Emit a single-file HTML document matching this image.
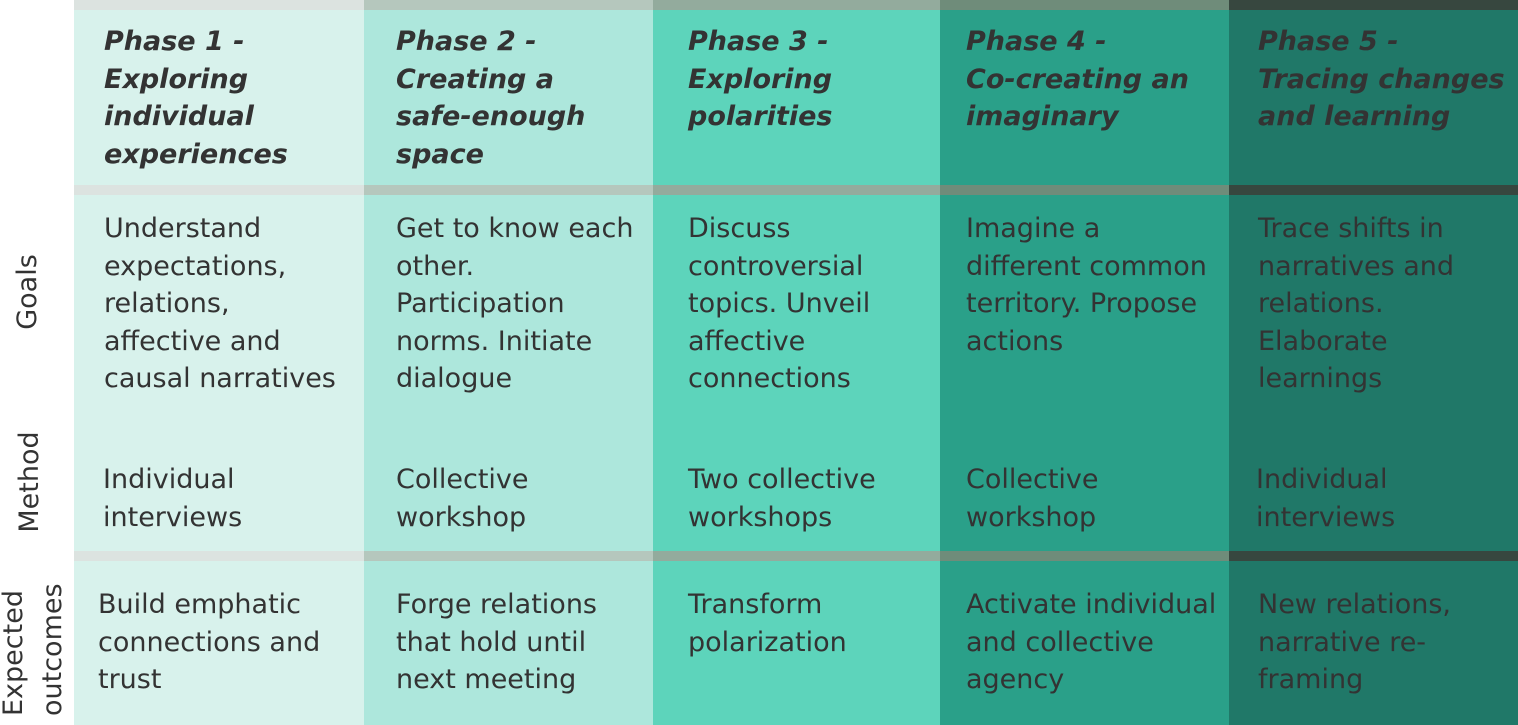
<!DOCTYPE html>
<html><head><meta charset="utf-8"><style>
body{margin:0;width:1518px;height:725px;background:#fff;overflow:hidden;position:relative;font-family:"DejaVu Sans","Liberation Sans",sans-serif;color:#333}
.c{position:absolute;top:0;height:725px}
.bar{position:absolute;left:0;right:0;height:10px}
.t{position:absolute;font-size:27px;line-height:37.5px;white-space:nowrap}
.h{font-weight:bold;font-style:oblique}
svg{position:absolute;left:0;top:0}
</style></head><body>
<div class="c" style="left:74px;width:290px;background:#d8f2ec"><div class="bar" style="top:0;background:#dce3e0"></div><div class="bar" style="top:185px;background:#dce3e0"></div><div class="bar" style="top:551px;background:#dce3e0"></div></div>
<div class="c" style="left:364px;width:289px;background:#ade7dc"><div class="bar" style="top:0;background:#b5c7bd"></div><div class="bar" style="top:185px;background:#b5c7bd"></div><div class="bar" style="top:551px;background:#b5c7bd"></div></div>
<div class="c" style="left:653px;width:287px;background:#5dd4bb"><div class="bar" style="top:0;background:#93ab9d"></div><div class="bar" style="top:185px;background:#93ab9d"></div><div class="bar" style="top:551px;background:#93ab9d"></div></div>
<div class="c" style="left:940px;width:289px;background:#2aa089"><div class="bar" style="top:0;background:#6f8c7a"></div><div class="bar" style="top:185px;background:#6f8c7a"></div><div class="bar" style="top:551px;background:#6f8c7a"></div></div>
<div class="c" style="left:1229px;width:289px;background:#207868"><div class="bar" style="top:0;background:#37473f"></div><div class="bar" style="top:185px;background:#37473f"></div><div class="bar" style="top:551px;background:#37473f"></div></div>

<div class="t h" style="left:104px;top:23px">Phase 1 -<br>Exploring<br>individual<br>experiences</div>
<div class="t h" style="left:396px;top:23px">Phase 2 -<br>Creating a<br>safe-enough<br>space</div>
<div class="t h" style="left:688px;top:23px">Phase 3 -<br>Exploring<br>polarities</div>
<div class="t h" style="left:966px;top:23px">Phase 4 -<br>Co-creating an<br>imaginary</div>
<div class="t h" style="left:1258px;top:23px">Phase 5 -<br>Tracing changes<br>and learning</div>

<div class="t" style="left:104px;top:210px">Understand<br>expectations,<br>relations,<br>affective and<br>causal narratives</div>
<div class="t" style="left:396px;top:210px">Get to know each<br>other.<br>Participation<br>norms. Initiate<br>dialogue</div>
<div class="t" style="left:688px;top:210px">Discuss<br>controversial<br>topics. Unveil<br>affective<br>connections</div>
<div class="t" style="left:966px;top:210px">Imagine a<br>different common<br>territory. Propose<br>actions</div>
<div class="t" style="left:1258px;top:210px">Trace shifts in<br>narratives and<br>relations.<br>Elaborate<br>learnings</div>

<div class="t" style="left:103px;top:461px">Individual<br>interviews</div>
<div class="t" style="left:396px;top:461px">Collective<br>workshop</div>
<div class="t" style="left:688px;top:461px">Two collective<br>workshops</div>
<div class="t" style="left:966px;top:461px">Collective<br>workshop</div>
<div class="t" style="left:1256px;top:461px">Individual<br>interviews</div>

<div class="t" style="left:98px;top:586px">Build emphatic<br>connections and<br>trust</div>
<div class="t" style="left:396px;top:586px">Forge relations<br>that hold until<br>next meeting</div>
<div class="t" style="left:688px;top:586px">Transform<br>polarization</div>
<div class="t" style="left:966px;top:586px">Activate individual<br>and collective<br>agency</div>
<div class="t" style="left:1258px;top:586px">New relations,<br>narrative re-<br>framing</div>

<svg width="74" height="725" font-family="DejaVu Sans, Liberation Sans, sans-serif" font-size="27" fill="#333">
<text transform="translate(36,292) rotate(-90)" text-anchor="middle">Goals</text>
<text transform="translate(38,482) rotate(-90)" text-anchor="middle">Method</text>
<text transform="translate(22,716) rotate(-90)">Expected</text>
<text transform="translate(61,716) rotate(-90)">outcomes</text>
</svg>
</body></html>
